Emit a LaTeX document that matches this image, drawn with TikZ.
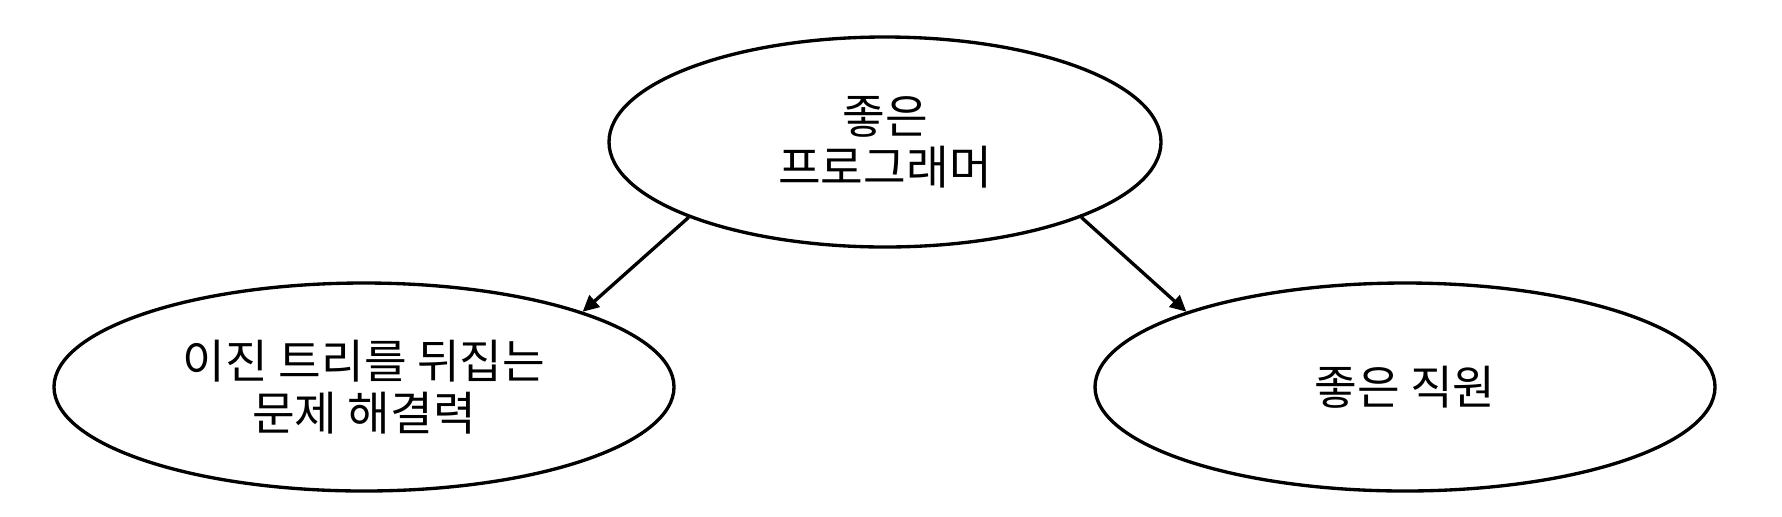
\documentclass[tikz,border=0pt]{standalone}
\usepackage{fontspec}
\setmainfont{Noto Sans CJK KR}
\usepackage{tikz}
\usetikzlibrary{shapes.geometric, arrows.meta}

\tikzset{
  idea/.style={draw, line width=0.95pt, ellipse, inner sep=0pt,
    minimum width=6.2cm, minimum height=2.08cm, align=center,
    font=\fontsize{13.2}{14.6}\selectfont},
  link/.style={-{Triangle[length=4.6pt, width=4.4pt]}, line width=0.95pt}
}

\begin{document}
\begin{tikzpicture}
            \useasboundingbox (0,0) rectangle (17.82,-5.16);

            \node[idea, minimum width=5.52cm, minimum height=2.1cm] (good) at (8.85,-1.42) {좋은\\프로그래머};
            \node[idea] (solve) at (3.64,-3.87) {이진 트리를 뒤집는\\문제 해결력};
            \node[idea] (worker) at (14.05,-3.87) {좋은 직원};

            \draw[link] (good.201) -- (solve.19);
            \draw[link] (good.339) -- (worker.161);
        \end{tikzpicture}
\end{document}
